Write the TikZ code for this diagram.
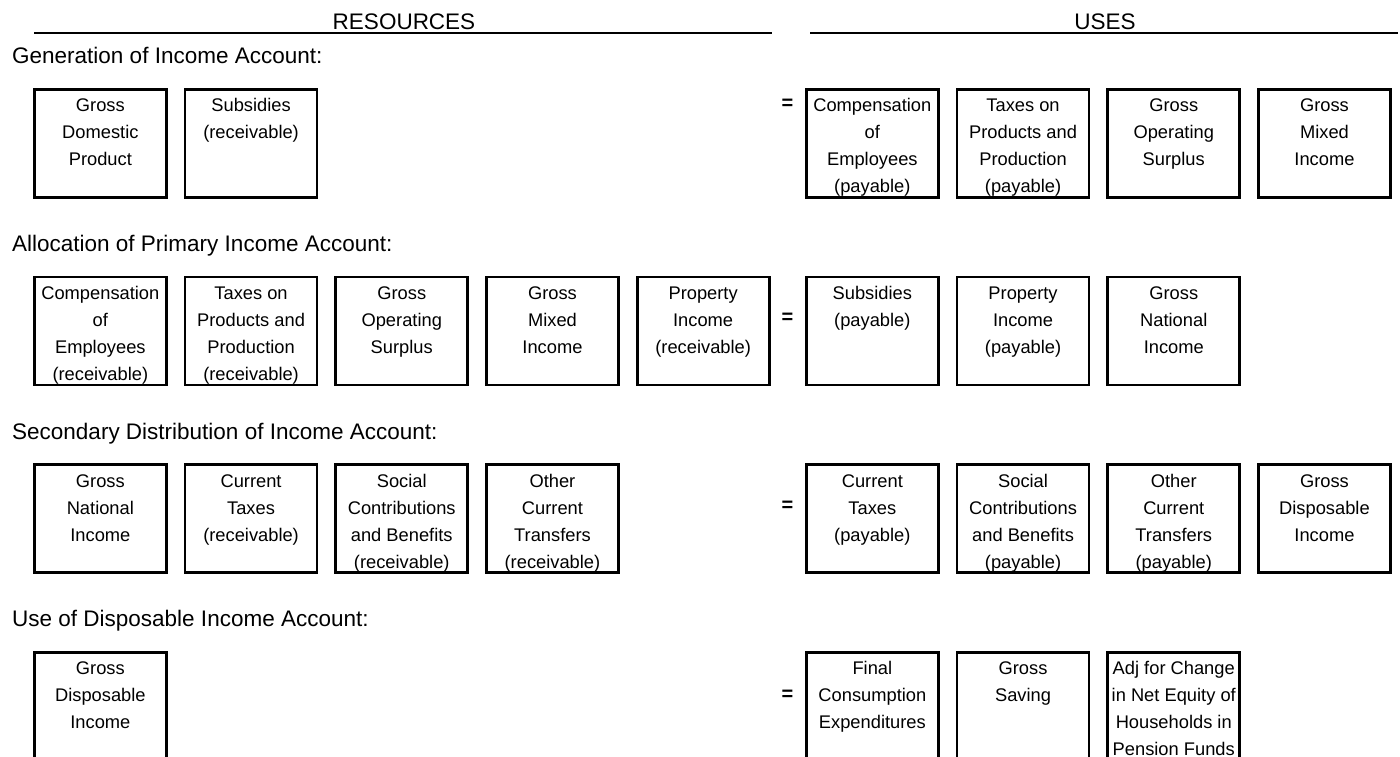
\documentclass[tikz,border=0pt]{standalone}
\usepackage{fontspec}
\setmainfont{Liberation Sans}
\tikzset{
  acct/.style={draw, line width=2.7pt, inner sep=0pt, anchor=north west, font=\fontsize{18.3}{27}\selectfont},
  head/.style={anchor=base, inner sep=0pt, font=\fontsize{22.5}{27}\selectfont},
  rowlabel/.style={anchor=base west, inner sep=0pt, font=\fontsize{22.5}{27}\selectfont},
  eqsign/.style={anchor=center, inner sep=0pt, font=\fontsize{20}{24}\bfseries\selectfont},
  hrule/.style={line width=2pt}
}
\newcommand\acctbox[5]{\node[acct] (#1) at (#2,#3) {\parbox[c][#4pt][t]{132pt}{\centering\rule{0pt}{22.5pt}#5}};}
\begin{document}
\begin{tikzpicture}[x=1pt,y=-1pt]
\useasboundingbox (0,0) rectangle (1400,757);
% headers
\node[head] (res) at (404,30) {RESOURCES};
\node[head] (uses) at (1105,30) {USES};
\coordinate (resL) at (34,33.3);
\coordinate (resR) at (772,33.3);
\coordinate (usesL) at (810,33.3);
\coordinate (usesR) at (1398,33.3);
\draw[hrule] (resL) -- (resR);
\draw[hrule] (usesL) -- (usesR);
% row labels
\node[rowlabel] (lab1) at (12,64) {Generation of Income Account:};
\node[rowlabel] (lab2) at (12,251.6) {Allocation of Primary Income Account:};
\node[rowlabel] (lab3) at (12,439.2) {Secondary Distribution of Income Account:};
\node[rowlabel] (lab4) at (12,626.8) {Use of Disposable Income Account:};
% row 1
\acctbox{a1}{33}{88}{108}{Gross\\Domestic\\Product}
\acctbox{a2}{183.7}{88}{108}{Subsidies\\(receivable)}
\node[eqsign] (eq1) at (787.5,104) {=};
\acctbox{a3}{805}{88}{108}{Compensation\\of\\Employees\\(payable)}
\acctbox{a4}{955.7}{88}{108}{Taxes on\\Products and\\Production\\(payable)}
\acctbox{a5}{1106.4}{88}{108}{Gross\\Operating\\Surplus}
\acctbox{a6}{1257.1}{88}{108}{Gross\\Mixed\\Income}
% row 2
\acctbox{b1}{33}{275.6}{108}{Compensation\\of\\Employees\\(receivable)}
\acctbox{b2}{183.7}{275.6}{108}{Taxes on\\Products and\\Production\\(receivable)}
\acctbox{b3}{334.4}{275.6}{108}{Gross\\Operating\\Surplus}
\acctbox{b4}{485.1}{275.6}{108}{Gross\\Mixed\\Income}
\acctbox{b5}{635.8}{275.6}{108}{Property\\Income\\(receivable)}
\node[eqsign] (eq2) at (787.5,318) {=};
\acctbox{b6}{805}{275.6}{108}{Subsidies\\(payable)}
\acctbox{b7}{955.7}{275.6}{108}{Property\\Income\\(payable)}
\acctbox{b8}{1106.4}{275.6}{108}{Gross\\National\\Income}
% row 3
\acctbox{c1}{33}{463.2}{108}{Gross\\National\\Income}
\acctbox{c2}{183.7}{463.2}{108}{Current\\Taxes\\(receivable)}
\acctbox{c3}{334.4}{463.2}{108}{Social\\Contributions\\and Benefits\\(receivable)}
\acctbox{c4}{485.1}{463.2}{108}{Other\\Current\\Transfers\\(receivable)}
\node[eqsign] (eq3) at (787.5,506.5) {=};
\acctbox{c5}{805}{463.2}{108}{Current\\Taxes\\(payable)}
\acctbox{c6}{955.7}{463.2}{108}{Social\\Contributions\\and Benefits\\(payable)}
\acctbox{c7}{1106.4}{463.2}{108}{Other\\Current\\Transfers\\(payable)}
\acctbox{c8}{1257.1}{463.2}{108}{Gross\\Disposable\\Income}
% row 4
\acctbox{d1}{33}{650.8}{114}{Gross\\Disposable\\Income}
\node[eqsign] (eq4) at (787.5,695.5) {=};
\acctbox{d2}{805}{650.8}{114}{Final\\Consumption\\Expenditures}
\acctbox{d3}{955.7}{650.8}{114}{Gross\\Saving}
\acctbox{d4}{1106.4}{650.8}{114}{Adj for Change\\in Net Equity of\\Households in\\Pension Funds}
\end{tikzpicture}
\end{document}
